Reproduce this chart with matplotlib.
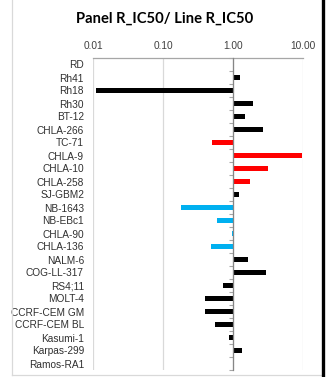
import matplotlib
matplotlib.use("Agg")
import matplotlib.pyplot as plt
import numpy as np
from matplotlib.lines import Line2D

categories = ["RD", "Rh41", "Rh18", "Rh30", "BT-12", "CHLA-266", "TC-71", "CHLA-9",
              "CHLA-10", "CHLA-258", "SJ-GBM2", "NB-1643", "NB-EBc1", "CHLA-90",
              "CHLA-136", "NALM-6", "COG-LL-317", "RS4;11", "MOLT-4", "CCRF-CEM GM",
              "CCRF-CEM BL", "Kasumi-1", "Karpas-299", "Ramos-RA1"]
values = [1.0, 1.26, 0.0112, 1.91, 1.48, 2.66, 0.50, 9.7,
          3.16, 1.75, 1.23, 0.18, 0.59, 0.97,
          0.485, 1.64, 2.96, 0.72, 0.40, 0.40,
          0.55, 0.88, 1.35, 1.0]
groups = ["k", "k", "k", "k", "k", "k", "r", "r",
          "r", "r", "k", "b", "b", "b",
          "b", "k", "k", "k", "k", "k",
          "k", "k", "k", "k"]
xticks = [0.01, 0.1, 1, 10]
xticklabels = ["0.01", "0.10", "1.00", "10.00"]
title = "Panel R_IC50/ Line R_IC50"

color_map = {"k": "#000000", "r": "#FF0000", "b": "#00B0F0"}

W, H = 328, 377
fig = plt.figure(figsize=(W / 100, H / 100), dpi=100)

x0, x1 = 93, 303
y0, y1 = 58, 370
ax = fig.add_axes([x0 / W, 1 - y1 / H, (x1 - x0) / W, (y1 - y0) / H])

n = len(categories)
pos = np.arange(n)
base = 1.0
widths = [v - base for v in values]
ax.barh(pos, widths, left=base, height=0.4,
        color=[color_map[g] for g in groups], zorder=3)

ax.set_xscale("log")
ax.set_xlim(0.01, 10)
ax.set_ylim(n - 0.5, -0.5)

ax.set_xticks(xticks)
ax.set_xticklabels(xticklabels)
ax.xaxis.set_minor_locator(matplotlib.ticker.NullLocator())
ax.xaxis.tick_top()
ax.tick_params(axis="x", which="major", length=0, pad=5, labelsize=7.3,
               labelcolor="#404040")
ax.grid(axis="x", color="#D9D9D9", linewidth=0.9, zorder=0)

ax.set_yticks(pos)
ax.set_yticklabels(categories)
ax.set_yticks(np.arange(n + 1) - 0.5, minor=True)
ax.tick_params(axis="y", which="major", left=True, right=False, length=0,
               pad=6.5, labelsize=7.3, labelcolor="#303030")
ax.tick_params(axis="y", which="minor", left=False, right=True, direction="in",
               length=3, color="#A6A6A6", width=0.8)

for s in ["left", "bottom"]:
    ax.spines[s].set_visible(False)
ax.spines["top"].set_color("#A6A6A6")
ax.spines["top"].set_linewidth(0.9)
ax.spines["right"].set_position(("data", 1.0))
ax.spines["right"].set_color("#868686")
ax.spines["right"].set_linewidth(0.9)
ax.spines["right"].set_zorder(4)

for lab in ax.get_xticklabels() + ax.get_yticklabels():
    lab.set_fontfamily(["Liberation Sans", "DejaVu Sans"])

fig.text(165 / W, 1 - 19 / H, title, ha="center", va="center",
         fontsize=10.6, fontweight="bold", family=["Lato", "DejaVu Sans"],
         color="#000000")

# chart area border
fig.add_artist(Line2D([11.5 / W, 11.5 / W], [1 - 375 / H, 1], transform=fig.transFigure,
                      color="#D9D9D9", linewidth=0.9))
fig.add_artist(Line2D([11.5 / W, 322 / W], [1 - 375 / H, 1 - 375 / H],
                      transform=fig.transFigure, color="#D9D9D9", linewidth=0.9))
fig.add_artist(Line2D([322.5 / W, 322.5 / W], [0, 1], transform=fig.transFigure,
                      color="#000000", linewidth=2.4))

fig.savefig("out.png", dpi=100)
